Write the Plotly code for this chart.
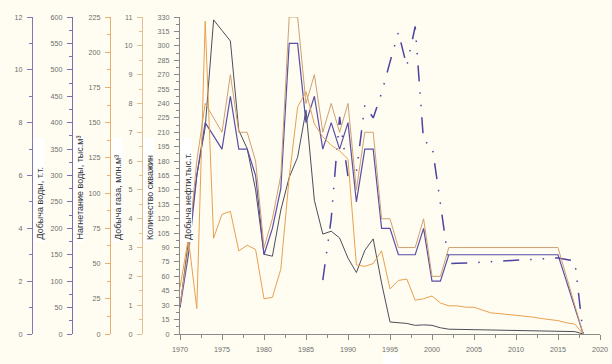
import plotly.graph_objects as go

years = list(range(1970, 2019))

oil = [28, 95, 165, 215, 327, 316, 305, 212, 193, 150,
       83, 81, 129, 163, 184, 233, 139, 104, 107, 100,
       79, 64, 87, 99, 53, 12.5, 12, 11, 9, 9.5,
       9, 6.5, 5, 4.8, 4.6, 4.4, 4.2, 4.0, 3.9, 3.8,
       3.6, 3.5, 3.4, 3.2, 3.1, 3.0, 2.8, 2.5, 0]

wells = [1, 3, 6, 8, 7.5, 7, 9, 7, 7, 6,
         3, 4, 5.5, 11, 11, 8, 9, 7, 8, 7,
         8, 5, 7, 7, 4, 4, 3, 3, 3, 4,
         2, 2, 3, 3, 3, 3, 3, 3, 3, 3,
         3, 3, 3, 3, 3, 3, 2, 1, 0]

water = [1, 3, 6, 8, 7.5, 7, 9, 7, 7, 6,
         3, 4, 5.5, 11, 11, 8, 9, 7, 8, 7,
         8, 5, 7, 7, 4, 4, 3, 3, 3, 4,
         2, 2, 3, 3, 3, 3, 3, 3, 3, 3,
         3, 3, 3, 3, 3, 3, 2, 1, 0]

gas = [33, 68, 18, 222, 68, 85, 87, 59, 63, 60,
       25, 26, 46, 111, 161, 172, 149, 140, 134, 130,
       124, 49, 48, 50, 59, 32, 38, 39, 24, 25,
       27, 22, 20, 20, 19, 19, 17, 15, 14.5, 14,
       13, 12.5, 12, 11, 10.5, 9.5, 8, 7, 0]

inj_years = list(range(1987, 2019))
injection = [102, 218, 411, 298, 307, 433, 409, 456, 515, 571,
             507, 582, 364, 358, 247, 133, 134, 134, 135, 136,
             137, 138, 139, 140, 141, 142, 143, 143, 144, 141,
             138, 0]

titles = ["Добыча воды, т.т.", "Нагнетание воды, тыс.м³", "Добыча газа, млн.м³",
          "Количество скважин", "Добыча нефти,тыс.т."]

BG = "#fffdf1"
TICKC = "#6e6e6e"
FONT = "Liberation Sans, Arial, sans-serif"
PW, PH, T = 600.0, 317.0, 17.0  # paper size / top margin in px


def px_x(p):
    return p / PW


def px_y(p):
    return (T + PH - p) / PH


fig = go.Figure()
fig.add_trace(go.Scatter(x=years, y=gas, yaxis="y4", mode="lines",
                         line=dict(color="#e8a050", width=1)))
fig.add_trace(go.Scatter(x=years, y=wells, yaxis="y5", mode="lines",
                         line=dict(color="#cfa071", width=1)))
fig.add_trace(go.Scatter(x=years, y=oil, yaxis="y", mode="lines",
                         line=dict(color="#4d4d5a", width=1)))
fig.add_trace(go.Scatter(x=years, y=water, yaxis="y2", mode="lines",
                         line=dict(color="#5a4ea6", width=1.2)))
fig.add_trace(go.Scatter(x=inj_years, y=injection, yaxis="y3", mode="lines",
                         line=dict(color="#4c44a0", width=1.5,
                                   dash="16px,11px,1.5px,11px,1.5px,11px")))


def yax(rng, dtick, color, pos=None):
    d = dict(range=rng, dtick=dtick, tick0=0, showgrid=False, zeroline=False,
             showline=True, linecolor=color, linewidth=1,
             ticks="outside", ticklen=5, tickcolor=color, tickwidth=1,
             ticklabelstandoff=3,
             minor=dict(dtick=dtick / 2, ticks="outside", ticklen=3,
                        tickcolor=color, tickwidth=1, showgrid=False),
             tickfont=dict(size=7.2, color=TICKC, family=FONT),
             automargin=False, fixedrange=True)
    if pos is not None:
        d.update(anchor="free", overlaying="y", position=pos, side="left")
    return d


fig.update_layout(
    width=612, height=364,
    template="none",
    paper_bgcolor=BG, plot_bgcolor=BG,
    showlegend=False,
    margin=dict(l=0, r=12, t=17, b=30),
    xaxis=dict(domain=[0.3, 1.0], range=[1970, 2020], dtick=5, tick0=1970,
               showgrid=False, zeroline=False, showline=True,
               linecolor="#8a8a8a", linewidth=1, ticks="outside", ticklen=5,
               tickcolor="#8a8a8a", ticklabelstandoff=3,
               minor=dict(dtick=2.5, ticks="outside", ticklen=3,
                          tickcolor="#8a8a8a", showgrid=False),
               tickfont=dict(size=7.2, color=TICKC, family=FONT),
               automargin=False, fixedrange=True),
    yaxis=yax([0, 330], 15, "#8a8a8a"),
    yaxis2=yax([0, 12], 2, "#8378b4", 32 / PW),
    yaxis3=yax([0, 600], 50, "#7a70b0", 72 / PW),
    yaxis4=yax([0, 225], 25, "#e8b070", 110 / PW),
    yaxis5=yax([0, 11], 1, "#dfc090", 142 / PW),
)

for xp, t in zip([32, 72, 110, 142, 180], titles):
    fig.add_shape(type="rect", xref="paper", yref="paper",
                  x0=px_x(xp + 1), x1=px_x(xp + 12), y0=px_y(242), y1=px_y(138),
                  fillcolor="#ffffff", line=dict(width=0), layer="above")
    fig.add_annotation(text=t, textangle=-90, xref="paper", yref="paper",
                       x=px_x(xp + 1.5), y=px_y(241), xanchor="left", yanchor="bottom",
                       showarrow=False, borderpad=0,
                       font=dict(size=9, color="#333333", family=FONT))

# blank x-axis title placeholder box
fig.add_shape(type="rect", xref="paper", yref="paper",
              x0=px_x(383), x1=px_x(400), y0=px_y(364), y1=px_y(353),
              fillcolor="#ffffff", line=dict(width=0), layer="above")

fig.write_html("out.html", config={"displayModeBar": False},
               post_script="document.body.style.margin='0';")
